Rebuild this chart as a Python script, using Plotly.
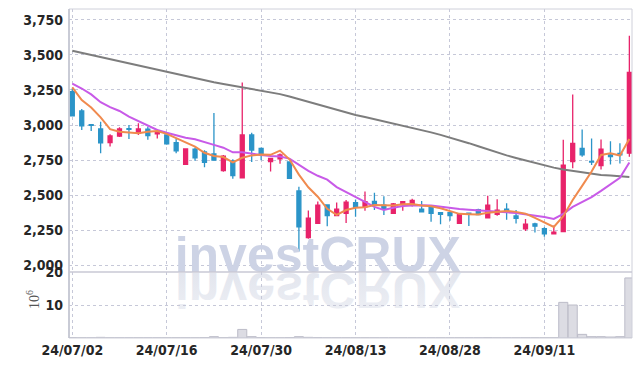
import base64
import plotly.graph_objects as go

# ---------------- data ----------------
dates = [
    "2024-07-02", "2024-07-03", "2024-07-04", "2024-07-05", "2024-07-08",
    "2024-07-09", "2024-07-10", "2024-07-11", "2024-07-12", "2024-07-15",
    "2024-07-16", "2024-07-17", "2024-07-18", "2024-07-19", "2024-07-22",
    "2024-07-23", "2024-07-24", "2024-07-25", "2024-07-26", "2024-07-29",
    "2024-07-30", "2024-07-31", "2024-08-01", "2024-08-02", "2024-08-05",
    "2024-08-06", "2024-08-07", "2024-08-08", "2024-08-09", "2024-08-12",
    "2024-08-13", "2024-08-14", "2024-08-16", "2024-08-19", "2024-08-20",
    "2024-08-21", "2024-08-22", "2024-08-23", "2024-08-26", "2024-08-27",
    "2024-08-28", "2024-08-29", "2024-08-30", "2024-09-02", "2024-09-03",
    "2024-09-04", "2024-09-05", "2024-09-06", "2024-09-09", "2024-09-10",
    "2024-09-11", "2024-09-12", "2024-09-13", "2024-09-19", "2024-09-20",
    "2024-09-23", "2024-09-24", "2024-09-25", "2024-09-26", "2024-09-27",
]

open_ = [3237, 3100, 3003, 2972, 2875, 2922, 2975, 2942, 2970, 2937,
         2930, 2875, 2720, 2829, 2808, 2794, 2675, 2744, 2625, 2929,
         2834, 2740, 2760, 2737, 2531, 2199, 2300, 2431, 2356, 2372,
         2447, 2418, 2456, 2430, 2372, 2433, 2428, 2402, 2416, 2377,
         2376, 2300, 2373, 2398, 2340, 2364, 2401, 2353, 2262, 2297,
         2262, 2226, 2241, 2740, 2834, 2742, 2712, 2787, 2798, 2800]
high = [3260, 3115, 3008, 3024, 2935, 2985, 3000, 3012, 2990, 2970,
        2935, 2905, 2832, 2840, 2820, 3085, 2787, 2756, 3303, 2946,
        2840, 2766, 2798, 2740, 2561, 2391, 2455, 2432, 2448, 2466,
        2470, 2527, 2518, 2493, 2445, 2460, 2475, 2460, 2420, 2380,
        2380, 2372, 2378, 2405, 2496, 2471, 2443, 2395, 2331, 2305,
        2272, 2285, 2895, 3218, 2969, 2905, 2898, 2885, 2870, 3636]
low = [3066, 2965, 2958, 2800, 2848, 2915, 2900, 2930, 2895, 2905,
       2860, 2800, 2718, 2746, 2700, 2746, 2668, 2618, 2625, 2737,
       2750, 2670, 2724, 2618, 2100, 2190, 2295, 2280, 2350, 2303,
       2347, 2390, 2395, 2360, 2368, 2390, 2420, 2380, 2312, 2294,
       2318, 2295, 2282, 2358, 2336, 2355, 2326, 2300, 2246, 2236,
       2205, 2224, 2241, 2692, 2775, 2715, 2683, 2720, 2727, 2775]
close = [3066, 2995, 2998, 2874, 2922, 2972, 2970, 2972, 2925, 2953,
         2866, 2817, 2830, 2767, 2735, 2750, 2779, 2640, 2929, 2822,
         2787, 2763, 2787, 2621, 2276, 2337, 2430, 2355, 2402, 2452,
         2414, 2454, 2431, 2402, 2439, 2455, 2463, 2383, 2372, 2365,
         2356, 2362, 2370, 2362, 2430, 2395, 2390, 2335, 2295, 2280,
         2226, 2238, 2715, 2870, 2787, 2737, 2828, 2775, 2787, 3375]

ma5 = [3268, 3178, 3125, 3055, 2971, 2952, 2947, 2942, 2952, 2958,
       2937, 2907, 2878, 2847, 2803, 2780, 2772, 2734, 2767, 2784,
       2791, 2788, 2818, 2756, 2647, 2557, 2490, 2404, 2360, 2395,
       2411, 2415, 2431, 2431, 2428, 2436, 2438, 2428, 2422, 2408,
       2388, 2368, 2365, 2363, 2376, 2384, 2389, 2382, 2369, 2339,
       2305, 2275, 2351, 2466, 2567, 2669, 2787, 2799, 2783, 2900]
ma10 = [3295, 3260, 3218, 3163, 3128, 3100, 3060, 3028, 2993, 2965,
        2945, 2927, 2910, 2899, 2881, 2859, 2839, 2806, 2807, 2794,
        2786, 2780, 2776, 2761, 2715, 2674, 2639, 2611, 2558, 2521,
        2484, 2453, 2417, 2395, 2412, 2423, 2427, 2430, 2427, 2418,
        2412, 2403, 2397, 2393, 2392, 2386, 2379, 2374, 2366, 2358,
        2345, 2332, 2367, 2417, 2453, 2487, 2531, 2575, 2624, 2734]
ma60 = [3529, 3514, 3499, 3484, 3468, 3452, 3437, 3421, 3406, 3391,
        3376, 3362, 3348, 3333, 3320, 3305, 3292, 3280, 3269, 3258,
        3249, 3235, 3220, 3203, 3184, 3164, 3144, 3125, 3107, 3089,
        3072, 3057, 3042, 3028, 3013, 2997, 2981, 2965, 2948, 2930,
        2912, 2892, 2871, 2849, 2826, 2803, 2784, 2766, 2748, 2731,
        2714, 2697, 2684, 2673, 2663, 2653, 2645, 2640, 2635, 2631]

volume = [0.15, 0.1, 0.08, 0.2, 0.1, 0.08, 0.08, 0.1, 0.08, 0.08,
          0.1, 0.12, 0.1, 0.1, 0.15, 0.4, 0.12, 0.2, 2.6, 0.4,
          0.15, 0.1, 0.1, 0.15, 0.4, 0.2, 0.15, 0.1, 0.1, 0.1,
          0.1, 0.1, 0.08, 0.08, 0.08, 0.1, 0.1, 0.08, 0.08, 0.08,
          0.08, 0.1, 0.08, 0.08, 0.15, 0.1, 0.08, 0.1, 0.1, 0.1,
          0.1, 0.12, 10.8, 10.0, 1.1, 0.4, 0.4, 0.3, 0.4, 18.2]

tick_idx = [0, 10, 20, 30, 40, 50]
tick_labels = ["24/07/02", "24/07/16", "24/07/30", "24/08/13", "24/08/28", "24/09/11"]
price_ticks = [2000, 2250, 2500, 2750, 3000, 3250, 3500, 3750]
volume_ticks = [10, 20]
volume_unit = "10<sup>6</sup>"
watermark = "investCRUX"

# ---------------- style ----------------
UP = "#e8236a"
DOWN = "#2b94c8"
GRID = "#c6c8d8"
TICKFONT = dict(family="DejaVu Sans Condensed, Roboto, sans-serif", size=14,
                color="#262626", weight="bold")
SPLIT = 0.2006
plot_w = 642 - 69 - 10
plot_h = 366 - 9 - 28

fig = go.Figure()

fig.add_trace(go.Bar(
    x=dates, y=volume, xaxis="x", yaxis="y2",
    marker=dict(color="#dcdce3", line=dict(color="#bcbcc8", width=1)),
    hoverinfo="skip", showlegend=False))

# watermark (drawn below the candles)
fig.add_trace(go.Scatter(
    x=[dates[26]], y=[2043], mode="text", text=[watermark],
    textposition="middle center",
    textfont=dict(family="Liberation Sans, Arial, sans-serif", size=50,
                  color="#cdd3e5", weight="bold"),
    cliponaxis=False, hoverinfo="skip", showlegend=False, xaxis="x", yaxis="y"))

fig.add_trace(go.Candlestick(
    x=dates, open=open_, high=high, low=low, close=close,
    xaxis="x", yaxis="y",
    increasing=dict(line=dict(color=UP, width=1.3), fillcolor=UP),
    decreasing=dict(line=dict(color=DOWN, width=1.3), fillcolor=DOWN),
    whiskerwidth=0, hoverinfo="skip", showlegend=False))

fig.add_trace(go.Scatter(x=dates, y=ma60, mode="lines", xaxis="x", yaxis="y",
                         line=dict(color="#7d7d7d", width=2), hoverinfo="skip", showlegend=False))
fig.add_trace(go.Scatter(x=dates, y=ma10, mode="lines", xaxis="x", yaxis="y",
                         line=dict(color="#c85ae8", width=2), hoverinfo="skip", showlegend=False))
fig.add_trace(go.Scatter(x=dates, y=ma5, mode="lines", xaxis="x", yaxis="y",
                         line=dict(color="#f08a4e", width=2), hoverinfo="skip", showlegend=False))

# mirrored reflection of the watermark
svg = (
    '<svg xmlns="http://www.w3.org/2000/svg" width="300" height="55" viewBox="0 0 300 55">'
    '<defs><linearGradient id="g" x1="0" y1="0" x2="0" y2="1">'
    '<stop offset="0" stop-color="#eef0f5"/><stop offset="1" stop-color="#e0e3ec"/>'
    '</linearGradient></defs>'
    '<g transform="scale(1,-1)">'
    '<text x="150" y="-1" text-anchor="middle" font-family="Liberation Sans, Arial, sans-serif" '
    'font-weight="bold" font-size="50" fill="url(#g)">' + watermark + '</text></g></svg>'
)
src = "data:image/svg+xml;base64," + base64.b64encode(svg.encode()).decode()
fig.add_layout_image(dict(
    source=src, xref="paper", yref="paper",
    x=(318 - 150 - 69) / plot_w, y=SPLIT,
    sizex=300 / plot_w, sizey=55 / plot_h,
    xanchor="left", yanchor="top", sizing="stretch", layer="below"))

# volume unit label
fig.add_annotation(
    text=volume_unit, xref="paper", yref="paper",
    x=(33 - 69) / plot_w, y=(338 - 300) / plot_h,
    xanchor="center", yanchor="middle", textangle=-90, showarrow=False,
    font=dict(family="Liberation Serif, DejaVu Serif, serif", size=14, color="#555"))

fig.update_layout(
    width=642, height=366,
    margin=dict(l=69, r=10, t=9, b=28, autoexpand=False),
    paper_bgcolor="white", plot_bgcolor="rgba(0,0,0,0)",
    showlegend=False, hovermode=False, boxgap=0.4, bargap=0.04,
    xaxis=dict(
        type="category", categoryorder="array", categoryarray=dates,
        range=[-0.35, 59.28], anchor="y2", automargin=False,
        tickvals=[dates[i] for i in tick_idx], ticktext=tick_labels,
        tickfont=TICKFONT, ticklabelstandoff=2,
        showgrid=True, gridcolor=GRID, griddash="dot", gridwidth=1,
        zeroline=False, showline=False, ticks="",
        rangeslider=dict(visible=False)),
    yaxis=dict(
        domain=[SPLIT, 1], range=[1954, 3826], automargin=False,
        tickvals=price_ticks, tickformat=",d", tickfont=TICKFONT,
        ticklabelstandoff=5,
        showgrid=True, gridcolor=GRID, griddash="dot", gridwidth=1,
        zeroline=False, showline=False, ticks=""),
    yaxis2=dict(
        domain=[0, SPLIT], range=[0, 20], automargin=False,
        tickvals=volume_ticks, tickfont=TICKFONT, ticklabelstandoff=5,
        showgrid=True, gridcolor=GRID, griddash="dot", gridwidth=1,
        zeroline=False, showline=False, ticks=""),
    shapes=[
        dict(type="rect", xref="paper", yref="paper", x0=0, x1=1, y0=0, y1=1,
             line=dict(color="#cfd0da", width=1), layer="above"),
        dict(type="line", xref="paper", yref="paper", x0=0, x1=0, y0=0, y1=1,
             line=dict(color="#bfc2ce", width=1.5), layer="above"),
        dict(type="line", xref="paper", yref="paper", x0=0, x1=1, y0=SPLIT, y1=SPLIT,
             line=dict(color="#c8c9d4", width=1.5), layer="above"),
    ],
)

fig.write_html(
    "out.html",
    config={"displayModeBar": False},
    post_script="document.body.style.margin='0';document.body.style.overflow='hidden';",
)
